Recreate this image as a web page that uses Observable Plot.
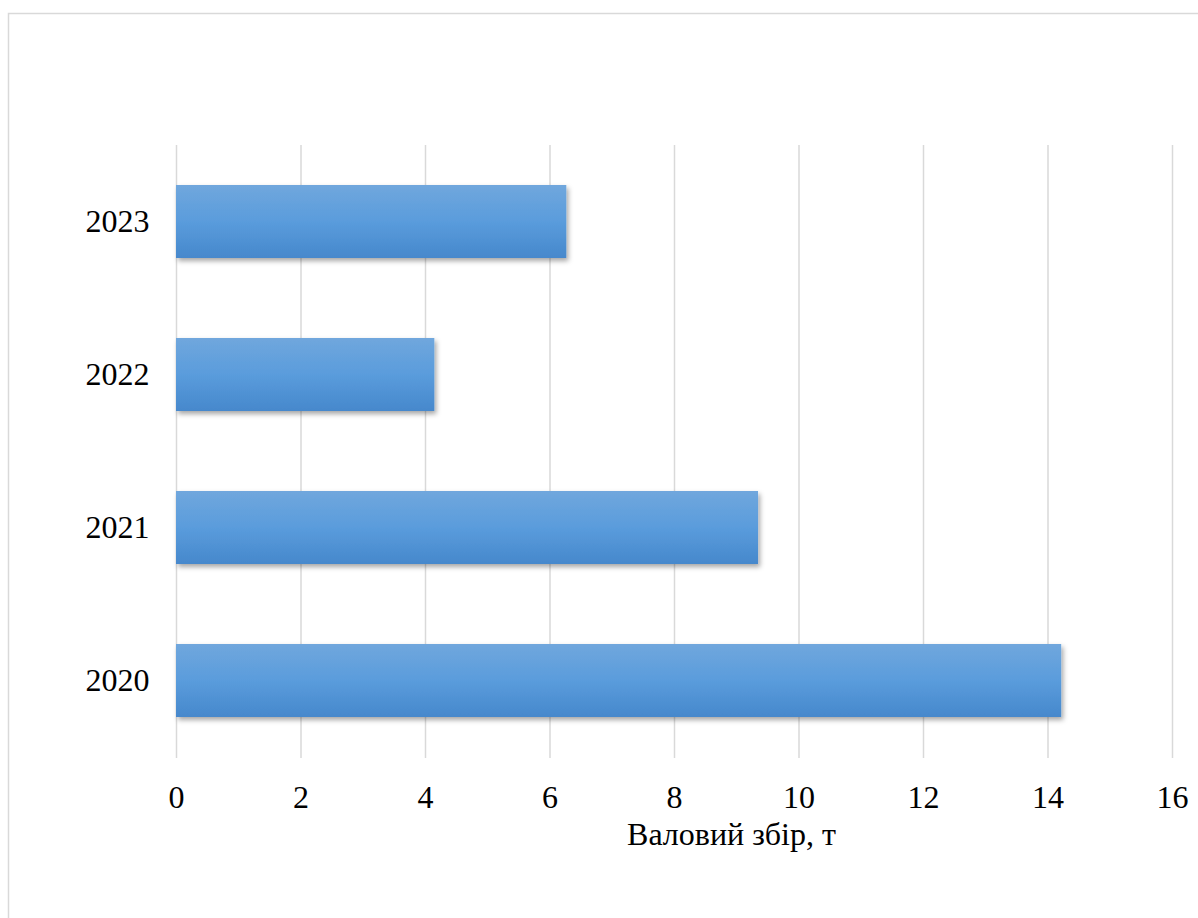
<!DOCTYPE html>
<html>
<head>
<meta charset="utf-8">
<script src="https://cdn.jsdelivr.net/npm/d3@7"></script>
<script src="https://cdn.jsdelivr.net/npm/@observablehq/plot@0.6"></script>
<style>
  html, body { margin: 0; padding: 0; background: #fff; }
  #chart svg { display: block; }
</style>
</head>
<body>
<div id="chart"></div>
<script>
const years = ["2023", "2022", "2021", "2020"];
const values = [6.27, 4.15, 9.35, 14.22];
const xTicks = [0, 2, 4, 6, 8, 10, 12, 14, 16];
const axisTitle = "Валовий збір, т";

const data = years.map((y, i) => ({year: y, value: values[i]}));
const NS = "http://www.w3.org/2000/svg";

function defsMark() {
  const defs = document.createElementNS(NS, "defs");
  const grad = document.createElementNS(NS, "linearGradient");
  grad.setAttribute("id", "barGrad");
  grad.setAttribute("x1", "0"); grad.setAttribute("y1", "0");
  grad.setAttribute("x2", "0"); grad.setAttribute("y2", "1");
  [["0%", "#70a7dd"], ["50%", "#5a9cdc"], ["100%", "#4688cc"]].forEach(([o, c]) => {
    const s = document.createElementNS(NS, "stop");
    s.setAttribute("offset", o); s.setAttribute("stop-color", c);
    grad.appendChild(s);
  });
  defs.appendChild(grad);
  const f = document.createElementNS(NS, "filter");
  f.setAttribute("id", "barShadow");
  f.setAttribute("x", "-10%"); f.setAttribute("y", "-20%");
  f.setAttribute("width", "130%"); f.setAttribute("height", "160%");
  const ds = document.createElementNS(NS, "feDropShadow");
  ds.setAttribute("dx", "2"); ds.setAttribute("dy", "3");
  ds.setAttribute("stdDeviation", "2.5");
  ds.setAttribute("flood-color", "#000");
  ds.setAttribute("flood-opacity", "0.35");
  f.appendChild(ds);
  defs.appendChild(f);
  return defs;
}

function borderMark() {
  const r = document.createElementNS(NS, "rect");
  r.setAttribute("x", "8.5"); r.setAttribute("y", "13.5");
  r.setAttribute("width", "1200"); r.setAttribute("height", "920");
  r.setAttribute("fill", "none");
  r.setAttribute("stroke", "#d9d9d9");
  r.setAttribute("stroke-width", "1.5");
  return r;
}

const chart = Plot.plot({
  width: 1198,
  height: 918,
  marginLeft: 176,
  marginRight: 26,
  marginTop: 145,
  marginBottom: 160,
  style: {fontFamily: "'Liberation Serif', 'Times New Roman', serif", background: "#fff", color: "#000"},
  x: {domain: [0, 16]},
  y: {domain: years, paddingInner: 0.52, paddingOuter: 0.26},
  marks: [
    defsMark,
    borderMark,
    Plot.ruleX(xTicks, {stroke: "#d9d9d9", strokeWidth: 1.5}),
    Plot.barX(data, {x: "value", y: "year", fill: "url(#barGrad)"}),
    Plot.axisX({ticks: xTicks, tickSize: 0, tickPadding: 27, fontSize: 32, label: null}),
    Plot.axisY({tickSize: 0, tickPadding: 27, fontSize: 32, label: null}),
    Plot.text([axisTitle], {frameAnchor: "bottom", dy: 86, dx: 57, fontSize: 32, text: d => d})
  ]
});

chart.querySelectorAll('g[aria-label="bar"]').forEach(g => g.setAttribute("filter", "url(#barShadow)"));
document.getElementById("chart").appendChild(chart);
</script>
</body>
</html>
